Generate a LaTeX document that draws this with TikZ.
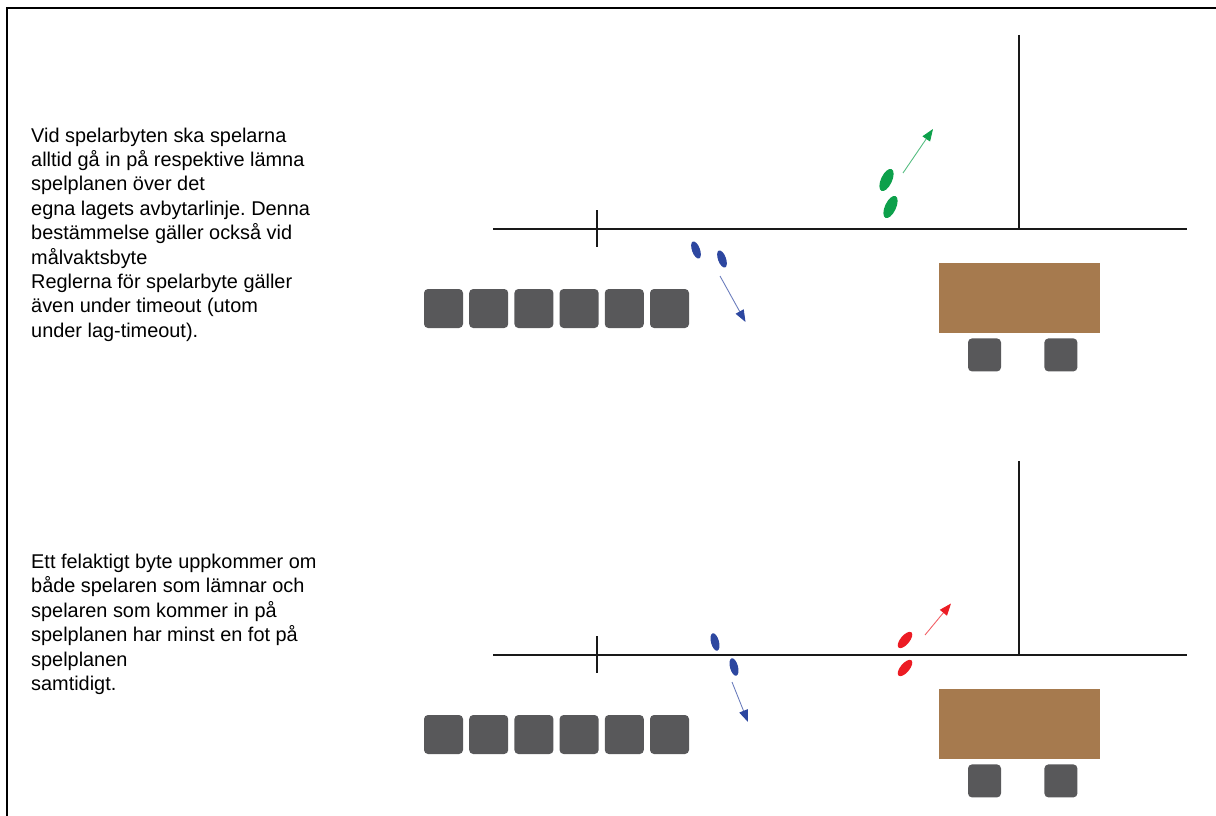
\documentclass[tikz,border=0pt]{standalone}
\usepackage{fontspec}
\setmainfont{Liberation Sans}
\usepackage{xcolor}
\usetikzlibrary{arrows.meta,positioning,shapes.geometric}
\definecolor{benchgray}{HTML}{58585A}
\definecolor{tablebrown}{HTML}{A67A4E}
\definecolor{plgreen}{HTML}{0DA04B}
\definecolor{plblue}{HTML}{2D47A0}
\definecolor{plred}{HTML}{EC1C24}
\frenchspacing

\begin{document}
\begin{tikzpicture}[x=1pt,y=-1pt,node distance=5.8pt,
  txt/.style={anchor=north west,inner sep=0pt,align=left,font=\fontsize{19.9}{24.4}\selectfont},
  seat/.style={fill=benchgray,rounded corners=4pt,minimum size=#1,inner sep=0pt},
  plr/.style={ellipse,fill=#1,inner sep=0pt},
  mv/.style={line width=0.9pt,draw=#1!70,-{Triangle[length=12pt,width=9pt,color=#1]}},
  line/.style={line width=1.6pt,black!90}]
\useasboundingbox (0,0) rectangle (1216,816);
\draw[line width=1.8pt] (7,816)--(7,8)--(1216,8);

\node[txt] (t1) at (31,127.5) {Vid spelarbyten ska spelarna\\alltid gå in på respektive lämna\\spelplanen över det\\egna lagets avbytarlinje. Denna\\bestämmelse gäller också vid\\målvaktsbyte\\Reglerna för spelarbyte gäller\\även under timeout (utom\\under lag-timeout).};
\node[txt] (t2) at (31,553.8) {Ett felaktigt byte uppkommer om\\både spelaren som lämnar och\\spelaren som kommer in på\\spelplanen har minst en fot på\\spelplanen\\samtidigt.};

% field lines, benches and table, same in both halves
\foreach \oy/\s in {0/a,426/b}{
  \draw[line] (493,\oy+229)--(1187,\oy+229);
  \draw[line] (597,\oy+210)--(597,\oy+247);
  \draw[line] (1019,\oy+35)--(1019,\oy+229);
  \node[seat=39pt] (bench\s1) at (443.5,\oy+308.5) {};
  \foreach \i [count=\j from 2] in {1,...,5}
    \node[seat=39pt,right=of bench\s\i] (bench\s\j) {};
  \node[fill=tablebrown,minimum width=161pt,minimum height=70pt,inner sep=0pt] (tab\s) at (1019.5,\oy+298) {};
  \node[seat=33pt,below right=5pt and 29pt of tab\s.south west,anchor=north west] (chair\s1) {};
  \node[seat=33pt,right=43pt of chair\s1] (chair\s2) {};
}

% correct substitution
\node[plr=plblue,minimum width=8pt,minimum height=18pt,rotate=20] (bo1) at (696,250) {};
\node[plr=plblue,minimum width=8pt,minimum height=18pt,rotate=20] (bo2) at (722,259) {};
\node[plr=plgreen,minimum width=11pt,minimum height=24pt,rotate=-25] (gi1) at (886.5,180) {};
\node[plr=plgreen,minimum width=11pt,minimum height=24pt,rotate=-25] (gi2) at (890.5,207) {};
\coordinate (bos) at (720,276); \coordinate (boe) at (745.5,322);
\coordinate (gis) at (903,173); \coordinate (gie) at (933,129);
\draw[mv=plblue] (bos)--(boe);
\draw[mv=plgreen] (gis)--(gie);

% faulty substitution
\node[plr=plblue,minimum width=8pt,minimum height=18pt,rotate=15] (bb1) at (715,642) {};
\node[plr=plblue,minimum width=8pt,minimum height=18pt,rotate=15] (bb2) at (734,667) {};
\node[plr=plred,minimum width=9pt,minimum height=20pt,rotate=-40] (ri1) at (905,640) {};
\node[plr=plred,minimum width=9pt,minimum height=20pt,rotate=-40] (ri2) at (905,668) {};
\coordinate (bbs) at (732,682); \coordinate (bbe) at (748,722);
\coordinate (ris) at (925,635); \coordinate (rie) at (951,603.5);
\draw[mv=plblue] (bbs)--(bbe);
\draw[mv=plred] (ris)--(rie);
\end{tikzpicture}
\end{document}
